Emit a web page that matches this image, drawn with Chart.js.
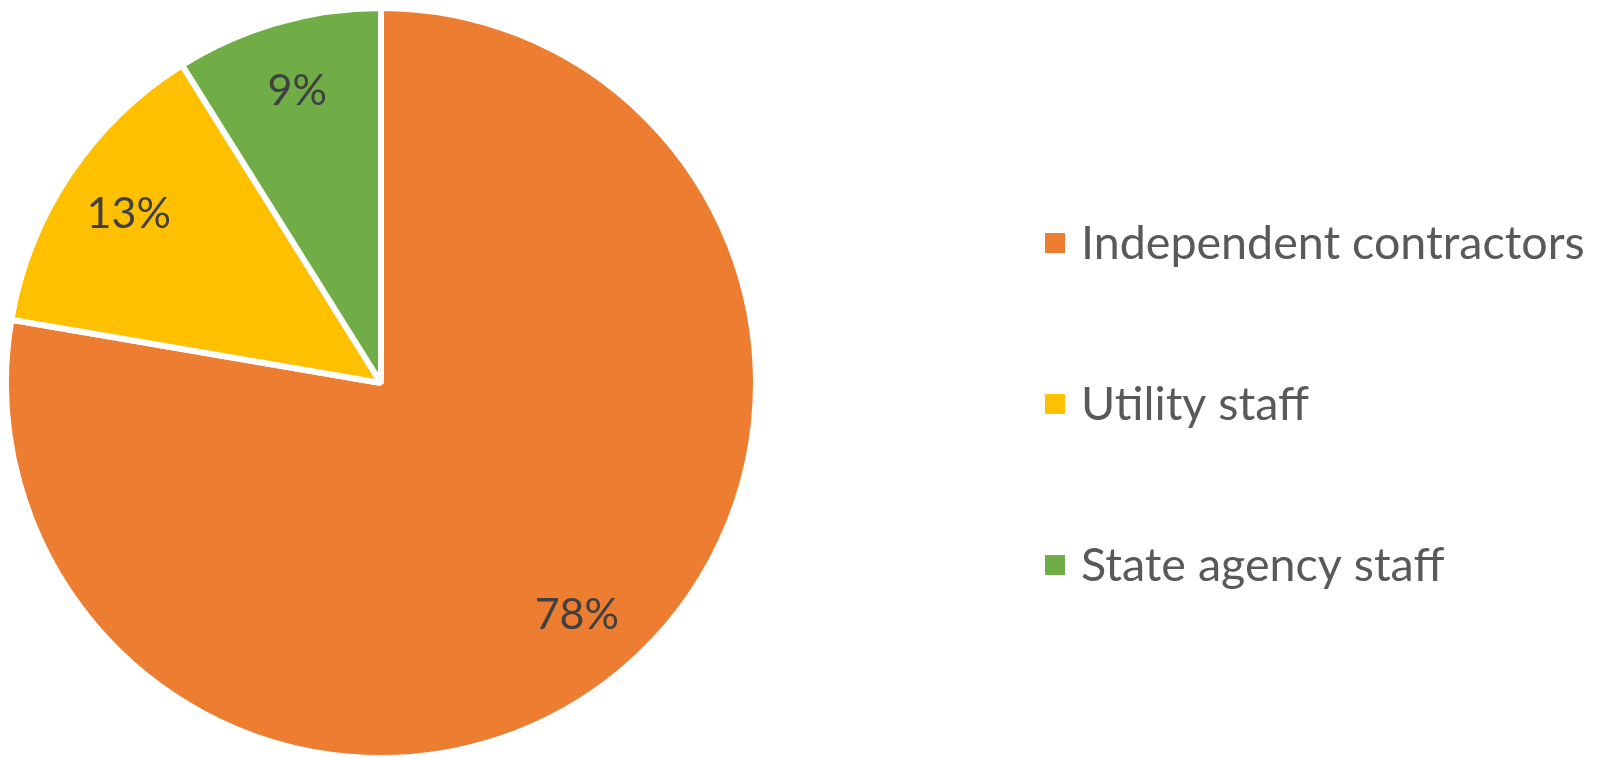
<!DOCTYPE html>
<html>
<head>
<meta charset="utf-8">
<script src="https://cdn.jsdelivr.net/npm/chart.js@4"></script>
<style>
  html, body { margin: 0; padding: 0; background: #fff; }
  #wrap { width: 1604px; height: 758px; }
</style>
</head>
<body>
<div id="wrap"><canvas id="chart" width="1604" height="758"></canvas></div>
<script>
// Chart data (shares, labels show them rounded)
const categories = ['Independent contractors', 'Utility staff', 'State agency staff'];
const shares = [77.7, 13.4, 8.9];
const sliceColors = ['#ED7D31', '#FFC000', '#70AD47'];

const FONT = 'Lato, "Open Sans", sans-serif';

// Percent labels inside each slice
const sliceLabels = {
  id: 'sliceLabels',
  afterDatasetsDraw(chart) {
    const ctx = chart.ctx;
    const meta = chart.getDatasetMeta(0);
    const total = shares.reduce((a, b) => a + b, 0);
    ctx.save();
    ctx.font = '43px ' + FONT;
    ctx.fillStyle = '#404040';
    ctx.textAlign = 'center';
    ctx.textBaseline = 'middle';
    meta.data.forEach((arc, i) => {
      const p = arc.getProps(['x', 'y', 'startAngle', 'endAngle', 'outerRadius'], true);
      const mid = (p.startAngle + p.endAngle) / 2;
      const r = p.outerRadius * 0.81;
      ctx.fillText(Math.round(shares[i] / total * 100) + '%', p.x + Math.cos(mid) * r, p.y + Math.sin(mid) * r);
    });
    ctx.restore();
  }
};

// Legend on the right, drawn from the chart's own labels and colours
const sideLegend = {
  id: 'sideLegend',
  afterDraw(chart) {
    const ctx = chart.ctx;
    const ds = chart.data.datasets[0];
    ctx.save();
    ctx.font = '46.6px ' + FONT;
    ctx.textBaseline = 'middle';
    chart.data.labels.forEach((label, i) => {
      const y = 243 + i * 161;
      ctx.fillStyle = ds.backgroundColor[i];
      ctx.fillRect(1045, y - 10, 20, 20);
      ctx.fillStyle = '#595959';
      ctx.fillText(label, 1081, y + 1);
    });
    ctx.restore();
  }
};

new Chart(document.getElementById('chart'), {
  type: 'pie',
  data: {
    labels: categories,
    datasets: [{
      data: shares,
      backgroundColor: sliceColors,
      borderColor: '#ffffff',
      borderWidth: 6,
      radius: 375
    }]
  },
  options: {
    responsive: false,
    animation: false,
    layout: { padding: { left: 6, top: 8, right: 848, bottom: 0 } },
    plugins: {
      legend: { display: false },
      tooltip: { enabled: false }
    }
  },
  plugins: [sliceLabels, sideLegend]
});
</script>
</body>
</html>
